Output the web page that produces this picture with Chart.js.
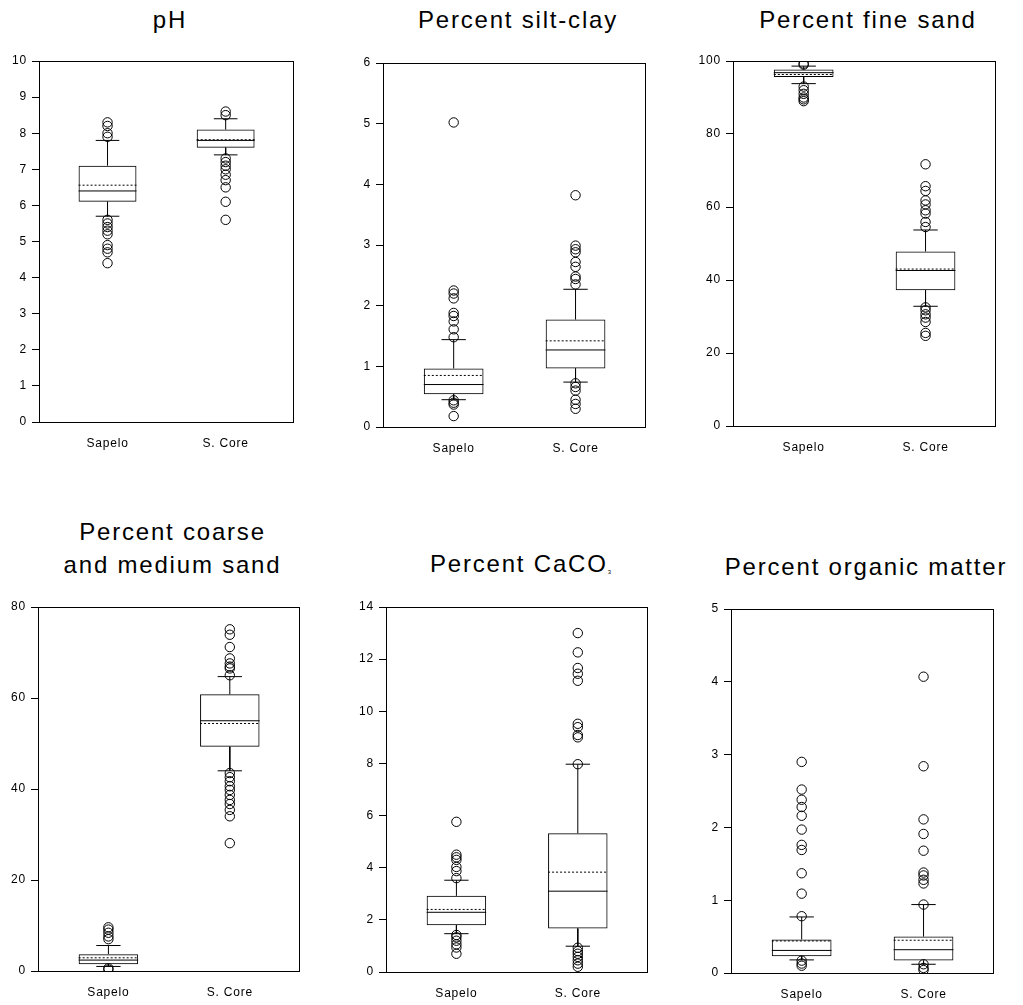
<!DOCTYPE html>
<html>
<head>
<meta charset="utf-8">
<script src="https://cdn.jsdelivr.net/npm/chart.js@4.4.1/dist/chart.umd.min.js"></script>
<style>
    body { margin: 0; background: #fff; width: 1023px; height: 1005px; position: relative; overflow: hidden;
           font-family: "Liberation Sans", Arial, sans-serif; }
    .title { position: absolute; width: 400px; text-align: center; font-size: 24px; letter-spacing: 1.8px;
             line-height: 33px; color: #000; white-space: nowrap; }
    .title sub { font-size: 6px; vertical-align: -2px; letter-spacing: 0; }
    canvas { position: absolute; }
</style>
</head>
<body>

<script>
// -------- DATA --------
const groups = ["Sapelo", "S. Core"];

// each stat array: [lower whisker, 25th pct, median, 75th pct, upper whisker, mean]
const phSapelo = [5.7, 6.1, 6.4, 7.1, 7.8, 6.56];
const phCore = [7.4, 7.6, 7.8, 8.1, 8.4, 7.82];
const phSapeloOut = [8.3, 8.2, 8.0, 7.9, 5.6, 5.5, 5.4, 5.3, 5.2, 4.9, 4.8, 4.7, 4.4];
const phCoreOut = [8.6, 8.5, 7.3, 7.2, 7.1, 7.0, 6.85, 6.7, 6.5, 6.1, 5.6];

const siltSapelo = [0.45, 0.54, 0.70, 0.965, 1.44, 0.85];
const siltCore = [0.74, 0.965, 1.27, 1.77, 2.27, 1.42];
const siltSapeloOut = [5.02, 2.25, 2.2, 2.12, 1.88, 1.83, 1.74, 1.61, 1.48, 0.44, 0.4, 0.37, 0.18];
const siltCoreOut = [3.82, 2.99, 2.93, 2.88, 2.72, 2.64, 2.48, 2.44, 2.35, 0.72, 0.66, 0.6, 0.45, 0.38, 0.3];

const fineSapelo = [93.8, 95.6, 96.8, 97.7, 98.6, 96.3];
const fineCore = [32.8, 37.2, 42.6, 47.8, 53.7, 43.0];
const fineSapeloOut = [99.3, 99.0, 93, 92, 91, 90, 89.5, 89];
const fineCoreOut = [71.7, 65.7, 64.4, 61.8, 60.7, 59.1, 58.2, 55.9, 54.5, 32.5, 31.7, 30.6, 29.7, 28.5, 25.5, 24.7];

const coarseSapelo = [1.0, 1.5, 2.4, 3.7, 5.6, 2.9];
const coarseCore = [44.0, 49.3, 55.0, 60.8, 64.7, 54.4];
const coarseSapeloOut = [9.6, 9.1, 8.4, 7.6, 7.0, 0.6, 0.3];
const coarseCoreOut = [75.1, 73.9, 71.2, 68.7, 67.6, 66.9, 66.5, 65.0, 43.5, 42.6, 41.7, 40.6, 39.8, 38.7, 37.6, 36.7, 35.4, 34.0, 28.1];

const cacoSapelo = [1.47, 1.79, 2.29, 2.92, 3.52, 2.40];
const cacoCore = [0.99, 1.67, 3.10, 5.32, 7.97, 3.83];
const cacoSapeloOut = [5.76, 4.5, 4.4, 4.3, 4.03, 3.87, 3.6, 1.42, 1.33, 1.2, 1.06, 0.94, 0.7];
const cacoCoreOut = [13.0, 12.26, 11.66, 11.44, 11.17, 9.52, 9.39, 9.09, 9.0, 7.97, 0.93, 0.8, 0.7, 0.58, 0.45, 0.32, 0.2];

const organicSapelo = [0.18, 0.23, 0.31, 0.46, 0.77, 0.44];
const organicCore = [0.12, 0.17, 0.32, 0.50, 0.94, 0.45];
const organicSapeloOut = [2.9, 2.52, 2.38, 2.28, 2.16, 1.97, 1.76, 1.69, 1.37, 1.09, 0.78, 0.17, 0.13, 0.1];
const organicCoreOut = [4.07, 2.84, 2.11, 1.91, 1.68, 1.38, 1.34, 1.28, 1.23, 0.94, 0.12, 0.07, 0.04];

// y axis: [max, step]
const phAxis = [10, 1];
const siltAxis = [6, 1];
const fineAxis = [100, 20];
const coarseAxis = [80, 20];
const cacoAxis = [14, 2];
const organicAxis = [5, 1];

// -------- LAYOUT (plot area boxes in page pixels: left, top, right, bottom) --------
const panels = [
    { title: "pH", area: [39, 61, 293, 422], base: 28, stats: [phSapelo, phCore], out: [phSapeloOut, phCoreOut], axis: phAxis },
    { title: "Percent silt-clay", area: [383, 63, 645, 427], base: 28, stats: [siltSapelo, siltCore], out: [siltSapeloOut, siltCoreOut], axis: siltAxis },
    { title: "Percent fine sand", area: [733, 61, 995, 426], base: 28, stats: [fineSapelo, fineCore], out: [fineSapeloOut, fineCoreOut], axis: fineAxis },
    { title: "Percent coarse<br>and medium sand", area: [38, 607, 299, 971], base: 540, stats: [coarseSapelo, coarseCore], out: [coarseSapeloOut, coarseCoreOut], axis: coarseAxis },
    { title: "Percent CaCO<sub>3</sub>", area: [386, 607, 647, 972], base: 572, stats: [cacoSapelo, cacoCore], out: [cacoSapeloOut, cacoCoreOut], axis: cacoAxis },
    { title: "Percent organic matter", area: [731, 609, 993, 973], base: 575, stats: [organicSapelo, organicCore], out: [organicSapeloOut, organicCoreOut], axis: organicAxis }
];

const Y_W = 38, X_H = 34, PAD_T = 14, PAD_R = 8;
const BOX_HALF = 0.245, CAP_HALF = 0.1;
const FONT = "'Liberation Sans', Arial, sans-serif";

// frame around the plot area + a bit of letter spacing for the tick text
const framePlugin = {
    id: "frame",
    beforeDraw(chart) {
        chart.ctx.letterSpacing = "0.8px";
    },
    beforeDatasetsDraw(chart) {
        const a = chart.chartArea;
        const ctx = chart.ctx;
        ctx.save();
        ctx.strokeStyle = "#000";
        ctx.lineWidth = 1;
        ctx.strokeRect(Math.round(a.left) + 0.5, Math.round(a.top) + 0.5,
                       Math.round(a.right - a.left), Math.round(a.bottom - a.top));
        ctx.restore();
    }
};

function buildDatasets(stats, out) {
    const gap = { x: 0.5, y: null };
    const solid = [];
    const mean = [];
    const outliers = [];
    const boxes = [];

    stats.forEach((s, g) => {
        boxes.push({ x: g, y: [s[1], s[3]] });
        // median
        solid.push({ x: g - BOX_HALF, y: s[2] }, { x: g + BOX_HALF, y: s[2] }, gap);
        // whiskers
        solid.push({ x: g, y: s[3] }, { x: g, y: s[4] }, gap);
        solid.push({ x: g, y: s[1] }, { x: g, y: s[0] }, gap);
        // caps
        solid.push({ x: g - CAP_HALF, y: s[4] }, { x: g + CAP_HALF, y: s[4] }, gap);
        solid.push({ x: g - CAP_HALF, y: s[0] }, { x: g + CAP_HALF, y: s[0] }, gap);
        // mean
        mean.push({ x: g - BOX_HALF, y: s[5] }, { x: g + BOX_HALF, y: s[5] }, gap);
        out[g].forEach(v => outliers.push({ x: g, y: v }));
    });

    const lineStyle = {
        type: "line", showLine: true, fill: false, tension: 0, spanGaps: false,
        pointRadius: 0, borderColor: "#000", borderWidth: 1
    };

    return [
        {
            type: "scatter", data: outliers, pointRadius: 4.7, pointBorderWidth: 1,
            pointBorderColor: "#000", pointBackgroundColor: "rgba(0,0,0,0)"
        },
        Object.assign({ data: solid }, lineStyle),
        Object.assign({ data: mean, borderDash: [2, 2] }, lineStyle),
        {
            type: "bar", data: boxes, backgroundColor: "rgba(0,0,0,0)", borderColor: "#000",
            borderWidth: 1, borderSkipped: false, barPercentage: 0.49, categoryPercentage: 1
        }
    ];
}

panels.forEach(p => {
    const [l, t, r, b] = p.area;

    // title
    const div = document.createElement("div");
    div.className = "title";
    div.innerHTML = p.title;
    div.style.left = ((l + r) / 2 + 4 - 200) + "px";
    div.style.top = (p.base - 25) + "px";
    document.body.appendChild(div);

    // chart
    const canvas = document.createElement("canvas");
    canvas.width = (r - l) + Y_W + PAD_R;
    canvas.height = (b - t) + PAD_T + X_H;
    canvas.style.left = (l - Y_W) + "px";
    canvas.style.top = (t - PAD_T) + "px";
    document.body.appendChild(canvas);

    new Chart(canvas.getContext("2d"), {
        type: "bar",
        data: { datasets: buildDatasets(p.stats, p.out) },
        options: {
            responsive: false,
            animation: false,
            layout: { padding: { top: PAD_T, right: PAD_R, left: 0, bottom: 0 } },
            plugins: { legend: { display: false }, tooltip: { enabled: false } },
            scales: {
                x: {
                    type: "linear", min: -0.58, max: 1.57, offset: false,
                    grid: { display: false }, border: { display: false },
                    afterBuildTicks: axis => { axis.ticks = [{ value: 0 }, { value: 1 }]; },
                    afterFit: axis => { axis.height = X_H; },
                    ticks: {
                        callback: v => groups[v], padding: 6, maxRotation: 0,
                        color: "#000", font: { family: FONT, size: 12 }
                    }
                },
                y: {
                    min: 0, max: p.axis[0],
                    grid: { drawOnChartArea: false, drawTicks: true, tickLength: 7, color: "#000" },
                    border: { display: false },
                    afterFit: axis => { axis.width = Y_W; },
                    ticks: { stepSize: p.axis[1], padding: 5, color: "#000", font: { family: FONT, size: 12 } }
                }
            }
        },
        plugins: [framePlugin]
    });
});
</script>
</body>
</html>
